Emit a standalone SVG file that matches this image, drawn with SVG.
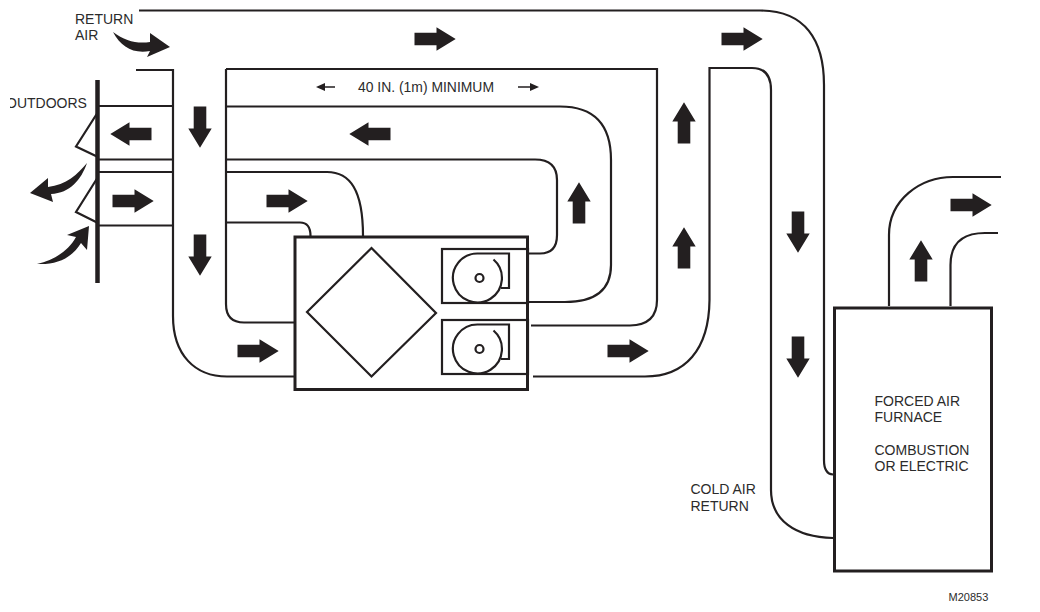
<svg xmlns="http://www.w3.org/2000/svg" width="1040" height="612" viewBox="0 0 1040 612">
<style>
.d{fill:none;stroke:#231f20;stroke-width:2.2}
.b{fill:none;stroke:#231f20;stroke-width:3}
.a{fill:#231f20;stroke:none}
text{font-family:"Liberation Sans",Arial,sans-serif;font-size:14px;fill:#2b2b2b}
</style>
<defs>
<path id="ar" class="a" d="M-20.500-6.300H1.500V-11.700L20.700 0 1.500 11.700V6.300H-20.500Z"/>
<clipPath id="cut"><rect x="10" y="90" width="90" height="30"/></clipPath>
</defs>
<rect width="1040" height="612" fill="#fff"/>
<g id="connectors">
<path class="d" d="M139 10.500H760C805 10.500 824 40 824 85V460Q824 474 833 474.500"/>
<path class="d" d="M136 70H173V316C173 355 195 376.500 227 376.500H295"/>
<path class="d" d="M226 69H657V300Q657 325 630 325.500H531"/>
<path class="d" d="M226 69V304Q226 322.500 244 322.500H295"/>
<path class="d" d="M533 376.500H645C685 376.500 709 350 709.500 300V68H752Q771 68 771 90V490C771 520 795 537 833 538"/>
<path class="d" d="M99 106H173M226 106.500H560C595 106.500 611 125 611 160V265Q611 302 565 302H527"/>
<path class="d" d="M99 159.500H173M226 159.500H535Q557 159.500 557 180V235Q557 253.500 540 253.500H527"/>
<path class="d" d="M99 172H173M226 172H327C350 172 363 190 363 236"/>
<path class="d" d="M99 225.500H173M226 222.500H300Q310.500 222.500 310.500 236"/>
<path class="d" d="M889 306V235C889 200 920 177 953 177H1001"/>
<path class="d" d="M950.500 306V265Q950.500 233 985 233H998"/>
<path class="d" d="M98 112 76 146.500 98 157M98 177 76 212 98 223"/>
<path d="M97.500 80V283" fill="none" stroke="#231f20" stroke-width="4.500"/>
</g>
<g id="hrv">
<rect class="b" x="295" y="237" width="232.500" height="152.500"/>
<path class="d" d="M371.500 248 436 313 371.500 376.500 307 312Z"/>
<g id="fan1">
<rect class="d" x="442" y="249" width="86" height="54"/>
<path class="d" d="M493.500 259.500A24.500 24.500 0 1 1 478 253.500H509V288H501"/>
<circle class="d" cx="479.500" cy="278" r="4"/>
</g>
<g id="fan2">
<rect class="d" x="442" y="320" width="86" height="54"/>
<path class="d" d="M493.500 330.500A24.500 24.500 0 1 1 478 324.500H509V359H501"/>
<circle class="d" cx="479.500" cy="349" r="4"/>
</g>
</g>
<g id="furnace">
<rect class="b" x="834.500" y="308" width="157" height="263"/>
<text x="874.500" y="406">FORCED AIR</text>
<text x="874.500" y="422">FURNACE</text>
<text x="874.500" y="455">COMBUSTION</text>
<text x="874.500" y="471">OR ELECTRIC</text>
</g>
<g id="arrows">
<use href="#ar" transform="translate(131 134) scale(-1 1)"/>
<use href="#ar" transform="translate(133 201)"/>
<use href="#ar" transform="translate(287 201)"/>
<use href="#ar" transform="translate(258 351)"/>
<use href="#ar" transform="translate(628 351)"/>
<use href="#ar" transform="translate(435 39)"/>
<use href="#ar" transform="translate(742 39)"/>
<use href="#ar" transform="translate(971 205)"/>
<use href="#ar" transform="translate(370 134) scale(-1 1)"/>
<use href="#ar" transform="translate(200 127) rotate(90)"/>
<use href="#ar" transform="translate(200 255) rotate(90)"/>
<use href="#ar" transform="translate(798 232) rotate(90)"/>
<use href="#ar" transform="translate(798 357) rotate(90)"/>
<use href="#ar" transform="translate(684 123) rotate(-90)"/>
<use href="#ar" transform="translate(684 248) rotate(-90)"/>
<use href="#ar" transform="translate(579 203) rotate(-90)"/>
<use href="#ar" transform="translate(921 261) rotate(-90)"/>
<path class="a" d="M113 32C125 41 137 44 150 42L150 33 170 47 147 57 150 51C133 54 121 47 113 32Z"/>
<path class="a" d="M87 163C78 174 66 185 48 187L48 178 30 193 53 202 51 194C70 193 81 180 87 163Z"/>
<path class="a" d="M37 264C55 260 69 250 76 237L67 235 89 226 87 250 81 243C72 258 57 265 37 264Z"/>
</g>
<g id="dimension">
<text x="358" y="92" textLength="136" lengthAdjust="spacingAndGlyphs">40 IN. (1m) MINIMUM</text>
<path class="a" d="M316 87 325 83V86.300H335V87.700H325V91ZM539 87 530 83V86.300H518V87.700H530V91Z"/>
</g>
<g id="labels">
<text x="75" y="24">RETURN</text>
<text x="75" y="40">AIR</text>
<text x="6" y="108" clip-path="url(#cut)">OUTDOORS</text>
<text x="690.500" y="494">COLD AIR</text>
<text x="690.500" y="511">RETURN</text>
<text x="948.500" y="601" style="font-size:11px">M20853</text>
</g>
</svg>
